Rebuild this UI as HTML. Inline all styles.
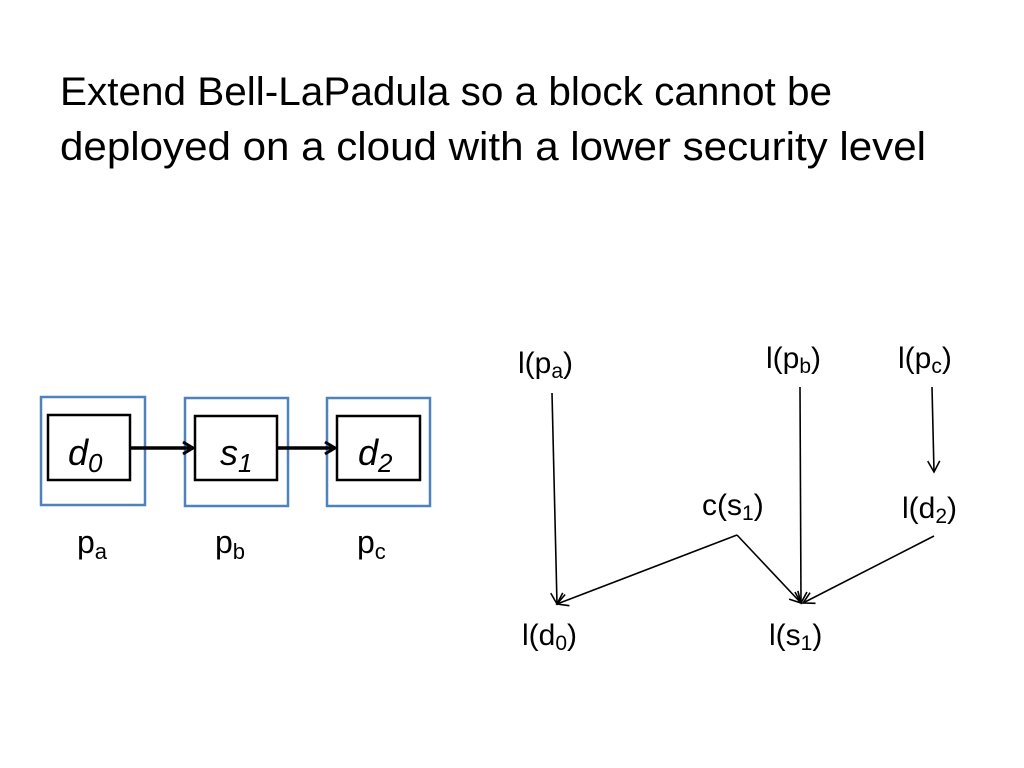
<!DOCTYPE html>
<html><head><meta charset="utf-8"><style>
html,body{margin:0;padding:0;background:#fff;width:1024px;height:768px;overflow:hidden}
svg text{font-family:"Liberation Sans",sans-serif;fill:#000}
</style></head><body>
<svg width="1024" height="768" viewBox="0 0 1024 768" xmlns="http://www.w3.org/2000/svg">
<defs>
<marker id="ah" markerWidth="14" markerHeight="14" refX="12" refY="7" orient="auto" markerUnits="userSpaceOnUse">
<path d="M1,1 L12,7 L1,13" fill="none" stroke="#000" stroke-width="1.6"/>
</marker>
<marker id="ahb" markerWidth="16" markerHeight="16" refX="13" refY="8" orient="auto" markerUnits="userSpaceOnUse">
<path d="M3,2 L13,8 L3,14" fill="none" stroke="#000" stroke-width="3"/>
</marker>
</defs>
<text x="60" y="105" font-size="40" textLength="772" lengthAdjust="spacingAndGlyphs">Extend Bell-LaPadula so a block cannot be</text>
<text x="60" y="160" font-size="40" textLength="866" lengthAdjust="spacingAndGlyphs">deployed on a cloud with a lower security level</text>

<g fill="none" stroke="#4f81bd" stroke-width="2.5">
<rect x="41" y="397" width="104" height="108"/>
<rect x="185" y="398" width="103" height="108"/>
<rect x="327" y="398" width="103" height="108"/>
</g>
<g fill="none" stroke="#000" stroke-width="2.5">
<rect x="48" y="415" width="82" height="65"/>
<rect x="195" y="416" width="82" height="64"/>
<rect x="337" y="416" width="83" height="64"/>
</g>
<line x1="130" y1="448" x2="193" y2="448" stroke="#000" stroke-width="3.5" marker-end="url(#ahb)"/>
<line x1="277" y1="448" x2="335" y2="448" stroke="#000" stroke-width="3.5" marker-end="url(#ahb)"/>
<g font-size="36" font-style="italic">
<text x="68" y="465">d<tspan font-size="26" dy="7">0</tspan></text>
<text x="220" y="465">s<tspan font-size="26" dy="7">1</tspan></text>
<text x="358" y="465">d<tspan font-size="26" dy="7">2</tspan></text>
</g>
<g font-size="32">
<text x="77" y="553">p<tspan font-size="22" dy="6">a</tspan></text>
<text x="215" y="553">p<tspan font-size="22" dy="6">b</tspan></text>
<text x="357" y="553">p<tspan font-size="22" dy="6">c</tspan></text>
</g>

<g font-size="30">
<text x="518" y="373">l(p<tspan font-size="21" dy="5">a</tspan><tspan dy="-5">)</tspan></text>
<text x="766" y="368">l(p<tspan font-size="21" dy="5">b</tspan><tspan dy="-5">)</tspan></text>
<text x="898" y="368">l(p<tspan font-size="21" dy="5">c</tspan><tspan dy="-5">)</tspan></text>
<text x="702" y="515">c(s<tspan font-size="21" dy="5">1</tspan><tspan dy="-5">)</tspan></text>
<text x="902" y="518">l(d<tspan font-size="21" dy="5">2</tspan><tspan dy="-5">)</tspan></text>
<text x="522" y="645">l(d<tspan font-size="21" dy="5">0</tspan><tspan dy="-5">)</tspan></text>
<text x="769" y="645">l(s<tspan font-size="21" dy="5">1</tspan><tspan dy="-5">)</tspan></text>
</g>
<g stroke="#000" stroke-width="1.6" fill="none">
<line x1="552" y1="393" x2="557" y2="604" marker-end="url(#ah)"/>
<line x1="800" y1="387" x2="801" y2="603" marker-end="url(#ah)"/>
<line x1="932" y1="387" x2="934" y2="472" marker-end="url(#ah)"/>
<line x1="737" y1="535" x2="557" y2="604" marker-end="url(#ah)"/>
<line x1="737" y1="535" x2="801" y2="603" marker-end="url(#ah)"/>
<line x1="934" y1="536" x2="803" y2="603" marker-end="url(#ah)"/>
</g>
</svg>
</body></html>
